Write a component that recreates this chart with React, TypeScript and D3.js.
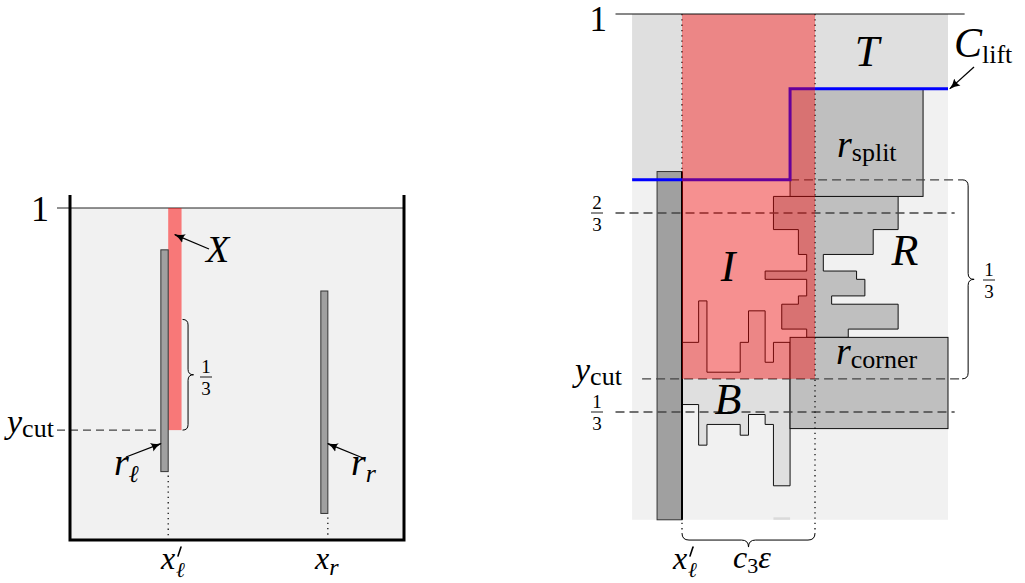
import React from "react";
import * as d3 from "d3";

const W = 1025;
const H = 583;
const FONT = "'Liberation Serif', 'DejaVu Serif', serif";

// ---- left panel, unit square ----
const leftCut = 0.331;
const leftThird = 1 / 3;
const leftColumn = [0.294, 0.334];
const leftBars = [
    { name: "rl", x: [0.272, 0.294], y: [0.206, 0.874] },
    { name: "rr", x: [0.751, 0.772], y: [0.08, 0.75] },
];

// ---- right panel, grid units (72 per unit of height) ----
const gridTop = 72;
const thirds = [24, 48];
const yCut = 28;
const panelX = [-6, 32];
const panelY = [11, 72];
const liftX = [-6, 13, 13, 32];
const liftY = [52, 52, 63, 63];
const splitBox = { x: [13, 29], y: [50, 63] };
const cornerBox = { x: [13, 32], y: [22, 33] };
const leftBar = { x: [-3, 0], y: [11, 53] };
const redCol = { x: [0, 16], y: [28, 72] };
const rRowY = [50, 46, 43, 41, 40, 38, 37, 34, 33];
const rRowLeft = [11, 14, 15, 10, 15, 14, 12, 15];
const rRowRight = [26, 23, 17, 21, 22, 18, 26, 20];
const bCols = [0, 2, 3, 7, 8, 10, 11, 13];
const bTop = [32.4, 37.4, 28.8, 32.4, 36.2, 30, 32.4];
const bBottom = [24.9, 20, 22.5, 21.2, 23.7, 22.5, 15.1];

const xL = d3.scaleLinear().domain([0, 1]).range([70, 404]);
const yL = d3.scaleLinear().domain([0, 1]).range([540, 208]);
const xR = d3.scaleLinear().domain([0, 16]).range([682, 815]);
const yR = d3.scaleLinear().domain([0, gridTop]).range([611, 14]);

const lineR = d3
    .line<[number, number]>()
    .x((d) => xR(d[0]))
    .y((d) => yR(d[1]));

// vertical brace, tip to the right
function braceV(x: number, y1: number, y2: number, a: number) {
    const ym = (y1 + y2) / 2;
    const h = a / 2;
    return `M${x},${y1} Q${x + h},${y1} ${x + h},${y1 + h} L${x + h},${ym - h} Q${x + h},${ym} ${x + a},${ym} Q${x + h},${ym} ${x + h},${ym + h} L${x + h},${y2 - h} Q${x + h},${y2} ${x},${y2}`;
}

// horizontal brace, tip downwards
function braceH(y: number, x1: number, x2: number, a: number) {
    const xm = (x1 + x2) / 2;
    const h = a / 2;
    return `M${x1},${y} Q${x1},${y + h} ${x1 + h},${y + h} L${xm - h},${y + h} Q${xm},${y + h} ${xm},${y + a} Q${xm},${y + h} ${xm + h},${y + h} L${x2 - h},${y + h} Q${x2},${y + h} ${x2},${y}`;
}

const Frac = ({ cx, cy, num, den, size = 19 }) => (
    <g fontFamily={FONT} fontSize={size} textAnchor="middle">
        <text x={cx} y={cy - 4}>{num}</text>
        <line x1={cx - 6} x2={cx + 6} y1={cy} y2={cy} stroke="black" strokeWidth={0.9} />
        <text x={cx} y={cy + 18}>{den}</text>
    </g>
);

const Arrow = ({ x1, y1, x2, y2 }) => (
    <line x1={x1} y1={y1} x2={x2} y2={y2} stroke="black" strokeWidth={1.3} markerEnd="url(#ah)" />
);

// x'_ell label: prime drawn as a short stroke
const XPrimeEll = ({ x, y }) => (
    <g>
        <text x={x} y={y} fontSize={32} fontStyle="italic">x</text>
        <line x1={x + 20} y1={y - 22} x2={x + 17} y2={y - 13} stroke="black" strokeWidth={1.6} strokeLinecap="round" />
        <text x={x + 15} y={y + 8} fontSize={21} fontStyle="italic">ℓ</text>
    </g>
);

export default function App() {
    // R staircase polygon
    const rPts: [number, number][] = [];
    rRowRight.forEach((r, i) => {
        rPts.push([r, rRowY[i]], [r, rRowY[i + 1]]);
    });
    for (let i = rRowLeft.length - 1; i >= 0; i--) {
        rPts.push([rRowLeft[i], rRowY[i + 1]], [rRowLeft[i], rRowY[i]]);
    }

    // B (and lower I) polygon
    const bPts: [number, number][] = [];
    bTop.forEach((t, j) => {
        bPts.push([bCols[j], t], [bCols[j + 1], t]);
    });
    for (let j = bBottom.length - 1; j >= 0; j--) {
        bPts.push([bCols[j + 1], bBottom[j]], [bCols[j], bBottom[j]]);
    }

    const liftPts: [number, number][] = liftX.map((x, i) => [x, liftY[i]]);
    const tPts: [number, number][] = [
        [panelX[0], gridTop],
        [panelX[1], gridTop],
        [panelX[1], liftY[3]],
        [liftX[1], liftY[2]],
        [liftX[1], liftY[1]],
        [panelX[0], liftY[0]],
    ];

    const rect = (b, s) => ({
        x: s === "L" ? xL(b.x[0]) : xR(b.x[0]),
        y: s === "L" ? yL(b.y[1]) : yR(b.y[1]),
        width: s === "L" ? xL(b.x[1]) - xL(b.x[0]) : xR(b.x[1]) - xR(b.x[0]),
        height: s === "L" ? yL(b.y[0]) - yL(b.y[1]) : yR(b.y[0]) - yR(b.y[1]),
    });

    const braceTop = yR(thirds[0] + yCut);
    const dash = "9 5";
    const dashCol = "#444";

    return (
        <svg
            width={W}
            height={H}
            style={{ position: "absolute", left: 0, top: 0, background: "white" }}
            fontFamily={FONT}
        >
            <defs>
                <marker
                    id="ah"
                    viewBox="0 0 10 10"
                    refX="9"
                    refY="5"
                    markerWidth="11"
                    markerHeight="11"
                    markerUnits="userSpaceOnUse"
                    orient="auto"
                >
                    <path d="M0,0.8 Q4,4 10,5 Q4,6 0,9.2 Q2,5 0,0.8 Z" fill="black" />
                </marker>
            </defs>

            {/* ---------- left panel ---------- */}
            <rect x={xL(0)} y={yL(1)} width={xL(1) - xL(0)} height={yL(0) - yL(1)} fill="#f1f1f1" />
            <line x1={57} x2={xL(1)} y1={yL(1)} y2={yL(1)} stroke="#222" strokeWidth={1} />
            <rect
                x={xL(leftColumn[0])}
                y={yL(1)}
                width={xL(leftColumn[1]) - xL(leftColumn[0])}
                height={yL(leftCut) - yL(1)}
                fill="red"
                fillOpacity={0.5}
            />
            {leftBars.map((b) => (
                <rect key={b.name} {...rect(b, "L")} fill="#a0a0a0" stroke="#333" strokeWidth={1} />
            ))}
            <line x1={57} x2={xL(leftBars[0].x[0])} y1={yL(leftCut)} y2={yL(leftCut)} stroke={dashCol} strokeWidth={1.2} strokeDasharray="8 5" />
            {leftBars.map((b) => (
                <line
                    key={b.name + "d"}
                    x1={xL(b.x[1])}
                    x2={xL(b.x[1])}
                    y1={yL(b.y[0]) + 4}
                    y2={yL(0) - 3}
                    stroke="black"
                    strokeWidth={1.2}
                    strokeDasharray="1.3 4"
                />
            ))}
            <path d={braceV(xL(leftColumn[1]) + 1, yL(leftCut + leftThird), yL(leftCut), 11)} fill="none" stroke="black" strokeWidth={1} />
            <path
                d={`M${xL(0)},${yL(1) - 13} L${xL(0)},${yL(0)} L${xL(1)},${yL(0)} L${xL(1)},${yL(1) - 13}`}
                fill="none"
                stroke="black"
                strokeWidth={3}
            />
            <Arrow x1={209} y1={249} x2={xL(0.314)} y2={yL(0.92)} />
            <Arrow x1={126} y1={457} x2={xL(leftBars[0].x[0])} y2={yL(0.29)} />
            <Arrow x1={363} y1={458} x2={xL(leftBars[1].x[1])} y2={yL(0.29)} />

            <text x={49} y={221} fontSize={36} textAnchor="end">1</text>
            <text x={206} y={262} fontSize={38} fontStyle="italic">X</text>
            <Frac cx={206} cy={377} num="1" den="3" />
            <text x={7} y={433}>
                <tspan fontSize={34} fontStyle="italic">y</tspan>
                <tspan fontSize={26} dy={4}>cut</tspan>
            </text>
            <text x={114} y={475}>
                <tspan fontSize={38} fontStyle="italic">r</tspan>
                <tspan fontSize={24} fontStyle="italic" dy={7}>ℓ</tspan>
            </text>
            <text x={351} y={475}>
                <tspan fontSize={38} fontStyle="italic">r</tspan>
                <tspan fontSize={26} fontStyle="italic" dy={7}>r</tspan>
            </text>
            <XPrimeEll x={161} y={569} />
            <text x={315} y={569}>
                <tspan fontSize={32} fontStyle="italic">x</tspan>
                <tspan fontSize={24} fontStyle="italic" dy={6}>r</tspan>
            </text>

            {/* ---------- right panel ---------- */}
            <rect
                x={xR(panelX[0])}
                y={yR(panelY[1])}
                width={xR(panelX[1]) - xR(panelX[0])}
                height={yR(panelY[0]) - yR(panelY[1])}
                fill="#f1f1f1"
            />
            <path d={lineR(tPts) + "Z"} fill="#dfdfdf" />
            <rect x={xR(11)} y={yR(11.3)} width={xR(13) - xR(11)} height={yR(11) - yR(11.3)} fill="#dadada" />
            <path d={lineR(bPts) + "Z"} fill="#dfdfdf" stroke="#111" strokeWidth={1} />
            <path d={lineR(rPts) + "Z"} fill="#bfbfbf" stroke="#111" strokeWidth={1} />
            <rect {...rect(splitBox, "R")} fill="#bfbfbf" stroke="#111" strokeWidth={1} />
            <rect {...rect(cornerBox, "R")} fill="#bfbfbf" stroke="#111" strokeWidth={1} />
            <rect {...rect(leftBar, "R")} fill="#a0a0a0" stroke="#333" strokeWidth={1} />
            <line x1={xR(0)} x2={xR(0)} y1={yR(leftBar.y[0])} y2={yR(leftBar.y[1])} stroke="black" strokeWidth={2} />

            {thirds.map((t) => (
                <line key={t} x1={xR(-8)} x2={xR(32.8)} y1={yR(t)} y2={yR(t)} stroke={dashCol} strokeWidth={1.3} strokeDasharray={dash} />
            ))}
            <line x1={xR(-4.8)} x2={xR(33.7)} y1={yR(yCut)} y2={yR(yCut)} stroke={dashCol} strokeWidth={1.3} strokeDasharray={dash} />
            <line x1={xR(13)} x2={xR(33.7)} y1={braceTop} y2={braceTop} stroke={dashCol} strokeWidth={1.3} strokeDasharray={dash} />
            {redCol.x.map((x) => (
                <line key={x} x1={xR(x)} x2={xR(x)} y1={yR(gridTop)} y2={yR(9.4)} stroke="black" strokeWidth={1.2} strokeDasharray="1.3 4" />
            ))}
            <path d={lineR(liftPts)} fill="none" stroke="#0000ff" strokeWidth={3} />
            <rect {...rect(redCol, "R")} fill="red" fillOpacity={0.4} />
            <line x1={xR(-8)} x2={xR(34)} y1={yR(gridTop)} y2={yR(gridTop)} stroke="#111" strokeWidth={1} />

            <path d={braceV(xR(33.7), braceTop, yR(yCut), 12)} fill="none" stroke="black" strokeWidth={1} />
            <path d={braceH(yR(9.4), xR(0), xR(16), 14)} fill="none" stroke="black" strokeWidth={1} />
            <Arrow x1={974} y1={67} x2={xR(32) + 2} y2={yR(63)} />

            <text x={607} y={31} fontSize={35} textAnchor="end">1</text>
            <Frac cx={597} cy={yR(thirds[1])} num="2" den="3" />
            <Frac cx={597} cy={yR(thirds[0])} num="1" den="3" />
            <Frac cx={989} cy={280} num="1" den="3" />
            <text x={575} y={381}>
                <tspan fontSize={34} fontStyle="italic">y</tspan>
                <tspan fontSize={26} dy={4}>cut</tspan>
            </text>
            <text x={867} y={66} fontSize={44} fontStyle="italic" textAnchor="middle">T</text>
            <text x={954} y={57}>
                <tspan fontSize={42} fontStyle="italic">C</tspan>
                <tspan fontSize={26} dy={6}>lift</tspan>
            </text>
            <text x={837} y={157}>
                <tspan fontSize={38} fontStyle="italic">r</tspan>
                <tspan fontSize={26} dy={4}>split</tspan>
            </text>
            <text x={905} y={265} fontSize={44} fontStyle="italic" textAnchor="middle">R</text>
            <text x={728} y={281} fontSize={44} fontStyle="italic" textAnchor="middle">I</text>
            <text x={836} y={364}>
                <tspan fontSize={38} fontStyle="italic">r</tspan>
                <tspan fontSize={26} dy={4}>corner</tspan>
            </text>
            <text x={728} y={414} fontSize={44} fontStyle="italic" textAnchor="middle">B</text>
            <XPrimeEll x={673} y={569} />
            <text x={733} y={568}>
                <tspan fontSize={32} fontStyle="italic">c</tspan>
                <tspan fontSize={22} dy={5}>3</tspan>
                <tspan fontSize={32} fontStyle="italic" dy={-5}>ε</tspan>
            </text>
        </svg>
    );
}
